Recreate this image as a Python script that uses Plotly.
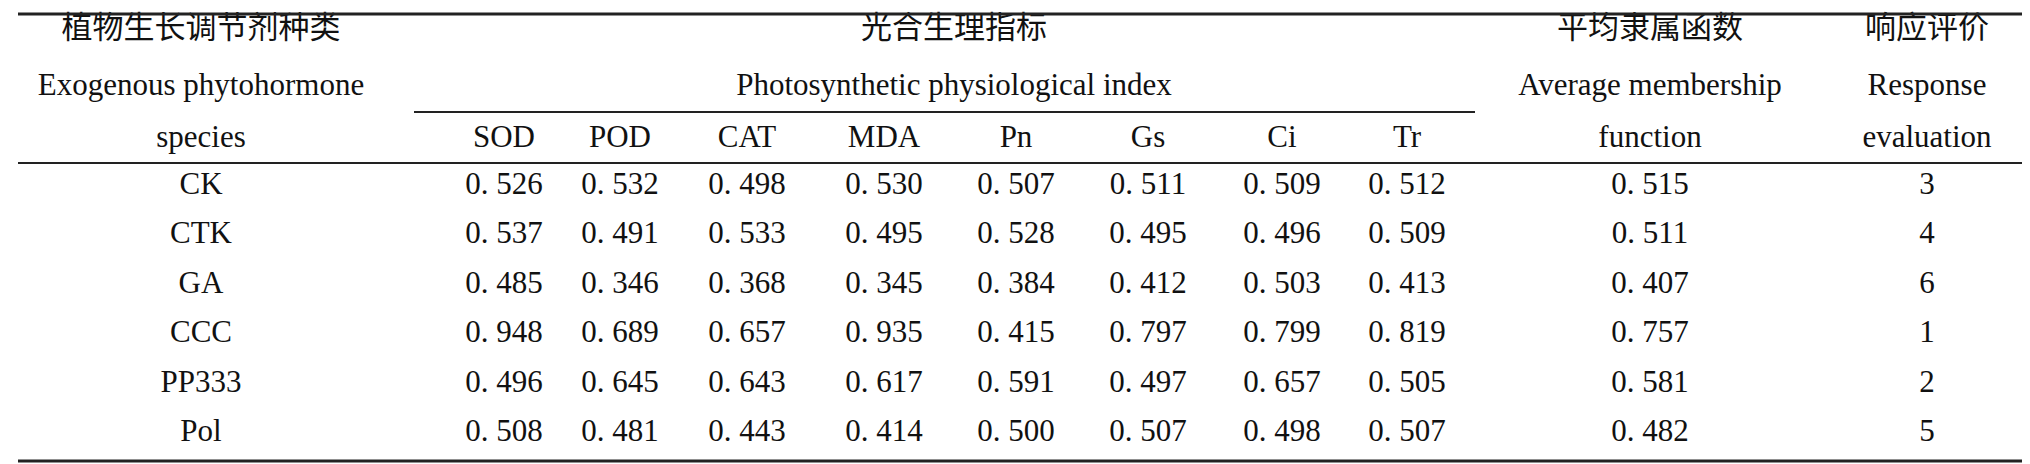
import plotly.graph_objects as go

species = ["CK", "CTK", "GA", "CCC", "PP333", "Pol"]
indices = ["SOD", "POD", "CAT", "MDA", "Pn", "Gs", "Ci", "Tr"]
values = [
    [0.526, 0.532, 0.498, 0.530, 0.507, 0.511, 0.509, 0.512],
    [0.537, 0.491, 0.533, 0.495, 0.528, 0.495, 0.496, 0.509],
    [0.485, 0.346, 0.368, 0.345, 0.384, 0.412, 0.503, 0.413],
    [0.948, 0.689, 0.657, 0.935, 0.415, 0.797, 0.799, 0.819],
    [0.496, 0.645, 0.643, 0.617, 0.591, 0.497, 0.657, 0.505],
    [0.508, 0.481, 0.443, 0.414, 0.500, 0.507, 0.498, 0.507],
]
avg_membership = [0.515, 0.511, 0.407, 0.757, 0.581, 0.482]
rank = [3, 4, 6, 1, 2, 5]

# layout in pixel units
col_x = [193, 496, 612, 739, 876, 1008, 1140, 1274, 1399, 1642, 1919]
row_y = [178, 227, 277, 326, 376, 425]
head_y = [22, 79, 131]
FONT = "Liberation Serif, Noto Sans CJK SC"
SIZE = 31

fig = go.Figure()

def add_text(xs, ys, texts):
    fig.add_trace(go.Scatter(x=xs, y=ys, text=texts, mode="text",
                             textfont=dict(family=FONT, size=SIZE, color="#111"),
                             textposition="middle center", hoverinfo="skip"))

# header
add_text([col_x[0], col_x[0], col_x[0]], head_y,
         ["植物生长调节剂种类", "Exogenous phytohormone", "species"])
add_text([946, 946], head_y[:2], ["光合生理指标", "Photosynthetic physiological index"])
add_text(col_x[1:9], [head_y[2]] * 8, indices)
add_text([col_x[9]] * 3, head_y, ["平均隶属函数", "Average membership", "function"])
add_text([col_x[10]] * 3, head_y, ["响应评价", "Response", "evaluation"])

# body
for r, name in enumerate(species):
    row = [name] + [f"{v:.3f}".replace(".", ". ") for v in values[r]] + \
          [f"{avg_membership[r]:.3f}".replace(".", ". "), str(rank[r])]
    add_text(col_x, [row_y[r]] * len(row), row)

fig.add_shape(type="line", x0=10, x1=2014, y0=6, y1=6, line=dict(color="#222", width=3))
fig.add_shape(type="line", x0=406, x1=1467, y0=104, y1=104, line=dict(color="#222", width=2))
fig.add_shape(type="line", x0=10, x1=2014, y0=155, y1=155, line=dict(color="#222", width=2))
fig.add_shape(type="line", x0=10, x1=2014, y0=453, y1=453, line=dict(color="#222", width=3))

fig.update_layout(
    width=2030, height=464, margin=dict(l=0, r=0, t=0, b=0),
    paper_bgcolor="white", plot_bgcolor="white", showlegend=False,
    xaxis=dict(range=[0, 2030], visible=False, fixedrange=True),
    yaxis=dict(range=[464, 0], visible=False, fixedrange=True),
)
fig.write_html("out.html")
